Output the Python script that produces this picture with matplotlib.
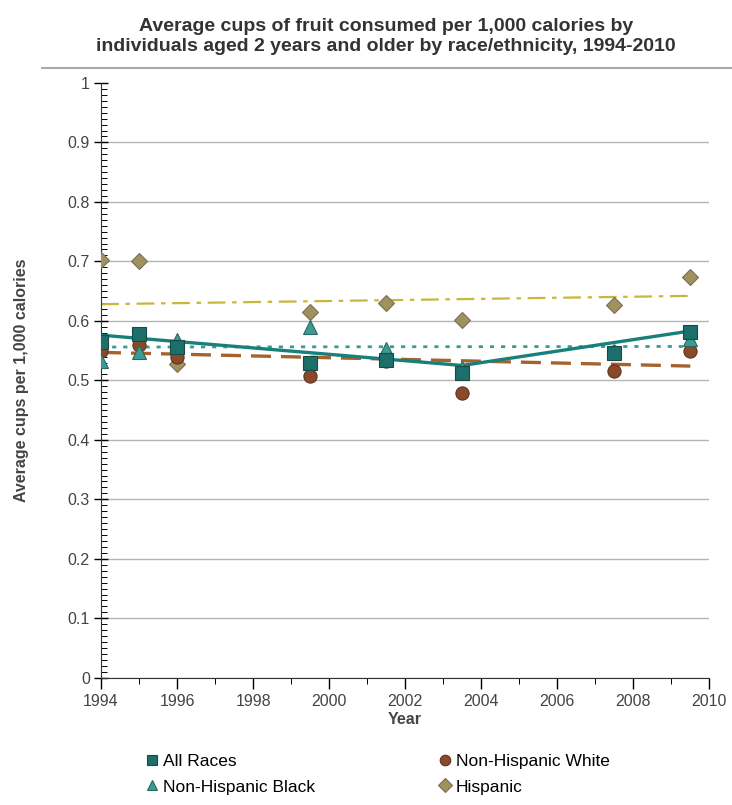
import numpy as np
import matplotlib.pyplot as plt
from matplotlib.ticker import MultipleLocator, FuncFormatter

plt.rcParams['font.family'] = ['Liberation Sans', 'DejaVu Sans']

# --- data ---
years = [1994, 1995, 1996, 1999.5, 2001.5, 2003.5, 2007.5, 2009.5]
all_races = [0.565, 0.578, 0.556, 0.530, 0.535, 0.512, 0.546, 0.581]
nh_white = [0.549, 0.560, 0.540, 0.507, 0.533, 0.478, 0.516, 0.550]
nh_black = [0.532, 0.548, 0.568, 0.590, 0.552, 0.520, 0.550, 0.570]
hispanic = [0.702, 0.700, 0.528, 0.615, 0.630, 0.601, 0.627, 0.673]

# fitted trend lines
trend_all_years = [1994, 2003.5, 2009.5]
trend_all = [0.576, 0.525, 0.583]
trend_years = [1994, 2009.5]
trend_white = [0.547, 0.524]
trend_black = [0.556, 0.557]
trend_hisp = [0.628, 0.642]

c_all = '#1c6f6a'
c_white = '#8a4a2a'
c_black = '#3a9b93'
c_hisp = '#a0915f'

fig = plt.figure(figsize=(7.32, 8.05), dpi=100)
ax = fig.add_axes([0.138, 0.158, 0.831, 0.739])

# trend lines
ax.plot(trend_years, trend_hisp, color='#c9b63c', lw=1.6, ls=(0, (8, 3, 2, 3)), zorder=2)
ax.plot(trend_years, trend_black, color=c_black, lw=2, ls=(0, (1.5, 2.5)), zorder=2)
ax.plot(trend_years, trend_white, color='#a4622c', lw=2.4, ls=(0, (6, 3)), zorder=2)
ax.plot(trend_all_years, trend_all, color='#17807a', lw=2.4, zorder=3)

# markers
ax.plot(years, hispanic, 'D', ms=8.5, color=c_hisp, mec='#777055', mew=0.8, ls='none',
        label='Hispanic', zorder=4)
ax.plot(years, nh_white, 'o', ms=9.5, color=c_white, mec='#5e3520', mew=0.8, ls='none',
        label='Non-Hispanic White', zorder=4)
ax.plot(years, nh_black, '^', ms=9.5, color=c_black, mec='#2b6660', mew=0.8, ls='none',
        label='Non-Hispanic Black', zorder=4)
ax.plot(years, all_races, 's', ms=9.5, color=c_all, mec='#1a4a46', mew=0.8, ls='none',
        label='All Races', zorder=4)

ax.set_xlim(1994, 2010)
ax.set_ylim(0, 1)
ax.set_xticks(np.arange(1994, 2011, 2))
ax.xaxis.set_minor_locator(MultipleLocator(1))
ax.set_yticks(np.linspace(0, 1, 11))
ax.yaxis.set_minor_locator(MultipleLocator(0.01))
ax.yaxis.set_major_formatter(FuncFormatter(lambda v, _: f'{v:g}'))

ax.tick_params(axis='y', which='major', direction='inout', length=10, width=1,
               labelsize=11.5, labelcolor='#444444', pad=3)
ax.tick_params(axis='y', which='minor', direction='in', length=4, width=0.7)
ax.tick_params(axis='x', which='major', direction='out', length=8, width=1,
               labelsize=11.5, labelcolor='#444444')
ax.tick_params(axis='x', which='minor', direction='out', length=4, width=0.7)

for s in ['top', 'right']:
    ax.spines[s].set_visible(False)
ax.spines['left'].set_color('#333333')
ax.spines['bottom'].set_color('#333333')

ax.yaxis.grid(True, color='#b5b5b5', lw=1)
ax.set_axisbelow(True)
ax.get_ygridlines()[-1].set_visible(False)

ax.set_xlabel('Year', fontsize=11.5, fontweight='bold', color='#444444', labelpad=2)
ax.set_ylabel('Average cups per 1,000 calories', fontsize=11.5, fontweight='bold',
              color='#444444', labelpad=28)

fig.text(0.527, 0.955, 'Average cups of fruit consumed per 1,000 calories by\n'
         'individuals aged 2 years and older by race/ethnicity, 1994-2010',
         ha='center', va='center', fontsize=14, fontweight='semibold', color='#333333',
         linespacing=1.2)
fig.add_artist(plt.Line2D([0.057, 1.0], [0.915, 0.915], color='#aaaaaa', lw=1.5))

h, l = ax.get_legend_handles_labels()
order = [3, 2, 1, 0]
handles = [h[i] for i in order]
labels = [l[i] for i in order]
fig.legend(handles, labels, loc='upper left', bbox_to_anchor=(0.175, 0.083), ncol=2,
           frameon=False, fontsize=12.5, handletextpad=0.1, columnspacing=7,
           markerscale=0.8, labelspacing=0.6, handlelength=1)

fig.savefig('out.png', dpi=100)
